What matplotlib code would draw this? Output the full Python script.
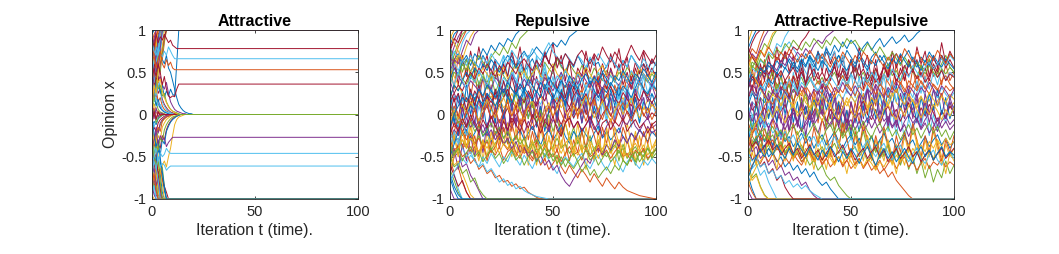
import numpy as np
import matplotlib
matplotlib.use("Agg")
import matplotlib.pyplot as plt

# ---------------- data (opinion values in hundredths) ----------------
titles = ["Attractive", "Repulsive", "Attractive-Repulsive"]
x_ticks = [0, 50, 100]
y_ticks = [-1, -0.5, 0, 0.5, 1]
y_tick_labels = ["-1", "-0.5", "0", "0.5", "1"]
x_label = "Iteration t (time)."
y_label = "Opinion x"

# Attractive: step 1 iteration, last value held to t=100
attr_to_pos = [
    [95, 100], [80, 90, 100], [70, 85, 75, 95, 100], [60, 75, 90, 100], [55, 70, 60, 85, 100],
    [88, 70, 95, 100], [45, 60, 75, 65, 90, 100], [30, 50, 45, 70, 85, 100], [65, 55, 80, 100],
    [40, 55, 70, 85, 95, 100], [75, 90, 80, 100], [50, 40, 60, 80, 70, 95, 100], [85, 95, 100],
    [35, 55, 50, 75, 90, 100], [62, 80, 70, 90, 100], [92, 85, 100], [58, 45, 65, 80, 100],
    [72, 60, 85, 78, 95, 100], [48, 65, 80, 70, 88, 100], [20, 40, 35, 55, 70, 65, 85, 100],
    [25, 15, 35, 55, 50, 72, 88, 100], [38, 50, 30, 45, 25, 35, 20, 28, 22, 30, 24, 22, 60, 100],
    [68, 78, 62, 88, 100], [15, 30, 45, 38, 60, 78, 92, 100],
    [10, 35, 25, 50, 65, 80, 100], [52, 38, 62, 75, 100], [82, 70, 92, 100],
    [28, 45, 62, 55, 78, 100],
]
attr_mid = [
    [90, 80, 95, 85, 92, 88, 95, 90, 85, 88, 82, 80, 78],
    [85, 75, 70, 80, 72, 68, 75, 70, 80, 75, 70, 66],
    [60, 70, 55, 65, 75, 60, 55, 65, 58, 62, 55, 53],
    [40, 55, 45, 60, 50, 35, 45, 30, 22, 20, 22, 21, 30, 36],
    [-40, -30, -20, -35, -25, -30, -28, -38, -33, -30, -27],
    [-60, -50, -40, -55, -45, -50, -47, -40, -44, -46],
    [-70, -55, -65, -50, -62, -58, -60, -66, -63, -61],
]
attr_to_zero = [
    [10, 5, 2, 1, 0], [20, 10, 15, 6, 3, 2, 1, 0], [-15, -8, -12, -5, -3, -1, 0],
    [30, 18, 25, 12, 8, 5, 3, 2, 1, 0], [-25, -15, -20, -10, -6, -4, -2, -1, 0],
    [5, 12, 6, 3, 2, 1, 0], [-8, -15, -6, -3, -2, -1, 0],
    [35, 25, 30, 15, 20, 10, 6, 4, 3, 2, 1, 1, 0],
    [-35, -25, -30, -20, -12, -8, -5, -3, -2, -1, 0], [15, 25, 10, 18, 8, 5, 3, 2, 1, 0],
    [-20, -30, -15, -22, -10, -6, -4, -2, -1, 0],
    [45, 35, 40, 25, 30, 18, 12, 8, 5, 3, 2, 1, 1, 0],
    [-45, -35, -40, -25, -30, -15, -10, -6, -4, -2, -1, 0],
    [25, 15, 20, 10, 12, 6, 4, 3, 2, 1, 0], [0, 8, -5, 4, -2, 1, 0], [-5, 5, -10, -4, -2, -1, 0],
    [90, 80, 70, 85, 75, 65, 60, 70, 55, 50, 40, 30, 20, 12, 8, 5, 3, 2, 1, 1, 0],
    [60, 50, 55, 40, 45, 35, 30, 38, 25, 15, 10, 6, 4, 3, 2, 1, 1, 0],
    [-55, -45, -50, -35, -40, -25, -30, -18, -12, -8, -5, -3, -2, -1, 0],
    [-70, -60, -75, -65, -70, -60, -55, -62, -50, -40, -25, -12, -6, -3, -2, -1, 0],
    [40, 30, 22, 35, 28, 15, 10, 6, 4, 2, 1, 0], [-30, -40, -22, -15, -20, -8, -5, -3, -2, -1, 0],
    [50, 40, 45, 30, 35, 22, 25, 15, 10, 6, 4, 3, 2, 1, 0],
    [-60, -50, -55, -42, -48, -30, -35, -20, -14, -9, -6, -4, -2, -1, 0],
    [12, -5, 8, -3, 2, 1, 0], [-12, 4, -6, 3, -1, 0],
    [55, 45, 50, 38, 42, 28, 20, 14, 9, 6, 4, 2, 1, 0],
    [-40, -50, -38, -42, -28, -32, -18, -12, -8, -5, -3, -2, -1, 0],
]
attr_to_neg = [
    [-95, -100], [-80, -92, -100], [-70, -85, -78, -95, -100], [-60, -75, -88, -100],
    [-55, -68, -60, -82, -100], [-88, -72, -95, -100], [-45, -58, -72, -65, -88, -100],
    [-30, -48, -42, -68, -82, -100], [-65, -55, -78, -100], [-40, -52, -68, -84, -95, -100],
    [-75, -88, -80, -100], [-50, -42, -62, -78, -70, -92, -100], [-85, -95, -100],
    [-35, -52, -48, -72, -88, -100], [-62, -78, -70, -90, -100], [-92, -84, -100],
    [-58, -46, -66, -82, -100], [-20, -38, -32, -55, -70, -62, -85, -100],
    [-15, -28, -40, -35, -55, -75, -90, -100], [-72, -62, -84, -76, -95, -100],
    [-48, -62, -56, -70, -64, -78, -85, -92, -100],
    [-10, -35, -25, -50, -65, -82, -100], [-52, -38, -62, -78, -100], [-82, -70, -90, -100],
    [-28, -45, -60, -55, -80, -100], [-5, -22, -38, -30, -52, -68, -85, -100],
]

# Repulsive: step 2 iterations, last value held to t=100
rep_to_pos = [
    [90, 100], [75, 88, 100], [65, 80, 92, 100], [82, 95, 100], [55, 70, 85, 95, 100],
    [70, 62, 80, 90, 100], [60, 75, 68, 85, 95, 100], [45, 58, 70, 65, 80, 92, 100],
    [78, 90, 85, 100], [50, 65, 60, 75, 88, 82, 95, 100],
    [40, 55, 48, 62, 70, 58, 72, 65, 78, 70, 82, 75, 85, 80, 90, 86, 95, 100],
    [35, 50, 45, 60, 52, 65, 58, 70, 62, 55, 68, 75, 70, 80, 72, 85, 78, 90, 95, 100],
    [20, 35, 28, 40, 50, 42, 55, 48, 60, 52, 65, 58, 50, 62, 70, 64, 55, 68, 75, 66, 72, 80,
     74, 68, 78, 85, 80, 88, 82, 92, 96, 100],
]
rep_to_neg = [
    [-88, -100], [-75, -90, -100], [-65, -78, -92, -100], [-55, -68, -62, -80, -92, -100],
    [-80, -70, -88, -100], [-45, -60, -55, -70, -82, -95, -100], [-60, -72, -85, -78, -92, -100],
    [-35, -50, -45, -62, -58, -72, -80, -90, -100], [-70, -85, -95, -100],
    [-50, -62, -58, -70, -65, -80, -75, -88, -95, -100],
    [-30, -42, -38, -50, -45, -58, -52, -65, -60, -70, -66, -75, -72, -80, -78, -85, -82, -88,
     -86, -92, -95, -98, -100],
    [-20, -35, -28, -40, -50, -44, -55, -62, -58, -68, -64, -72, -80, -76, -84, -80, -88, -85,
     -90, -93, -95, -97, -98, -99, -100],
    [0, -15, -8, -20, -30, -22, -35, -28, -40, -32, -45, -38, -25, -35, -42, -30, -45, -52, -40,
     -48, -55, -45, -60, -52, -65, -58, -50, -62, -70, -60, -68, -75, -65, -72, -80, -70, -78,
     -85, -75, -82, -88, -80, -86, -90, -92, -94, -96, -97, -98, -99, -100],
]
rep_mid = [
    [80, 65, 72, 58, 66, 50, 62, 55, 70, 60, 52, 65, 58, 48, 62, 70, 55, 63, 50, 58, 66, 54, 60, 72, 62, 55, 68, 58, 50, 64, 56, 70, 60, 52, 66, 58, 62, 50, 57, 68, 60, 54, 64, 56, 70, 62, 55, 60, 52, 64, 58],
    [20, 35, 28, 42, 36, 48, 40, 32, 45, 38, 50, 42, 55, 46, 38, 52, 60, 48, 55, 42, 50, 58, 45, 62, 54, 48, 66, 56, 50, 60, 52, 45, 58, 50, 42, 55, 48, 40, 52, 46, 38, 50, 44, 56, 48, 40, 52, 45, 38, 48, 42],
    [-40, -20, -5, 10, 5, 20, 12, 28, 20, 35, 25, 18, 32, 24, 40, 30, 22, 36, 28, 20, 34, 26, 42, 32, 24, 38, 30, 22, 35, 28, 40, 32, 25, 38, 30, 44, 34, 26, 40, 32, 24, 36, 28, 42, 34, 26, 38, 30, 22, 35, 28],
    [10, 22, 15, 28, 18, 12, 25, 20, 8, 18, 30, 22, 14, 26, 20, 10, 24, 32, 22, 15, 28, 20, 12, 25, 35, 24, 16, 28, 20, 30, 22, 14, 26, 18, 32, 24, 16, 28, 20, 12, 25, 18, 30, 22, 14, 26, 36, 28, 20, 24, 18],
    [60, 45, 35, 25, 18, 10, 20, 12, 5, 15, 22, 10, 18, 8, 14, 25, 12, 4, 16, 20, 8, 14, 22, 10, 2, 12, 20, 8, 16, 24, 12, 5, 18, 10, 20, 14, 6, 16, 24, 12, 4, 14, 20, 8, 16, 25, 12, 6, 18, 10, 14],
    [-70, -50, -35, -20, -12, -5, 5, -8, 2, 10, -5, 3, 12, -2, 8, -10, 0, 6, -6, 4, 12, -4, 6, -8, 2, 10, -2, -12, 0, 8, -4, 6, 14, 2, -6, 4, -10, 0, 8, -2, 10, 2, -8, 4, -4, 6, 12, 0, -6, 2, -2],
    [-30, -18, -25, -10, -20, -5, -15, -8, -22, -12, -2, -14, -6, -20, -10, -16, -4, -12, -22, -8, -18, -10, 0, -12, -20, -6, -14, -24, -10, -2, -16, -8, -20, -12, -4, -18, -10, -26, -14, -6, -16, -22, -8, -12, -2, -14, -20, -10, -4, -16, -12],
    [5, -8, -15, -25, -18, -30, -22, -12, -26, -20, -32, -24, -16, -28, -20, -34, -26, -18, -30, -22, -14, -26, -36, -24, -18, -30, -22, -12, -26, -34, -20, -28, -16, -24, -32, -22, -14, -28, -20, -30, -24, -16, -26, -34, -22, -28, -18, -24, -32, -20, -26],
    [-55, -45, -38, -30, -40, -28, -35, -25, -38, -30, -42, -34, -26, -36, -30, -44, -34, -28, -38, -46, -36, -30, -40, -32, -44, -38, -28, -40, -34, -46, -38, -30, -42, -36, -48, -40, -34, -44, -50, -42, -36, -46, -40, -52, -44, -38, -48, -42, -54, -46, -40],
    [-20, -32, -28, -40, -35, -46, -38, -44, -36, -50, -42, -48, -38, -54, -44, -40, -50, -36, -46, -42, -52, -40, -48, -36, -44, -50, -42, -56, -46, -38, -48, -44, -54, -40, -50, -46, -36, -48, -42, -52, -44, -38, -50, -46, -56, -42, -48, -40, -52, -46, -42],
    [-80, -68, -60, -52, -58, -48, -55, -62, -50, -58, -46, -54, -62, -50, -56, -44, -52, -60, -48, -56, -64, -52, -58, -46, -54, -62, -70, -58, -50, -56, -62, -52, -46, -58, -64, -54, -48, -58, -66, -56, -50, -60, -68, -56, -50, -58, -64, -54, -60, -52, -58],
    [95, 85, 75, 65, 58, 50, 60, 45, 55, 48, 40, 52, 46, 56, 42, 50, 58, 44, 52, 38, 48, 56, 46, 40, 52, 60, 48, 42, 54, 46, 38, 50, 44, 56, 48, 40, 52, 58, 46, 50, 42, 54, 48, 38, 50, 44, 56, 48, 42, 50, 46],
    [30, 15, 25, 8, 20, 12, 28, 18, 6, 22, 14, 26, 10, 20, 30, 16, 8, 22, 14, 28, 18, 10, 24, 16, 32, 20, 12, 26, 18, 8, 22, 30, 16, 24, 10, 20, 28, 14, 22, 34, 20, 12, 26, 18, 10, 24, 16, 28, 20, 14, 22],
    [-10, 5, -5, 12, 0, 15, 5, -8, 8, 18, 6, -4, 10, 20, 8, -2, 14, 4, -6, 10, 16, 2, -8, 6, 14, -2, 8, 18, 4, -6, 10, 0, 12, 22, 8, -4, 6, 16, 2, -8, 4, 14, 0, 10, 20, 6, -4, 8, 2, 12, 6],
    [40, 25, 15, 5, -5, -15, -8, -20, -12, -25, -18, -30, -22, -35, -28, -40, -32, -45, -38, -50, -42, -55, -48, -60, -54, -66, -60, -72, -80, -85, -76, -68, -60, -52, -58, -46, -40, -48, -36, -42, -30, -38, -26, -34, -22, -30, -18, -26, -14, -22, -18],
    [10, 0, -10, -5, -15, -8, -20, -12, -25, -18, -10, -22, -15, -28, -20, -32, -25, -35, -28, -40, -32, -45, -38, -50, -42, -55, -48, -60, -52, -58, -64, -56, -68, -60, -72, -65, -75, -68, -62, -70, -60, -66, -54, -60, -48, -56, -44, -50, -40, -46, -42],
    [50, 60, 52, 65, 58, 70, 62, 55, 68, 60, 72, 64, 58, 70, 62, 76, 68, 60, 72, 66, 78, 70, 64, 76, 85, 74, 68, 62, 72, 66, 58, 70, 64, 56, 68, 60, 72, 64, 56, 68, 60, 52, 64, 56, 70, 62, 54, 66, 58, 50, 62],
    [15, 25, 35, 28, 40, 50, 42, 55, 48, 60, 52, 45, 58, 50, 62, 55, 48, 60, 66, 58, 52, 64, 56, 70, 62, 55, 68, 60, 72, 64, 58, 70, 76, 66, 60, 72, 64, 80, 70, 62, 74, 66, 58, 70, 82, 72, 64, 76, 68, 60, 70],
    [-50, -35, -20, -10, 0, 10, 5, 18, 12, 25, 18, 10, 22, 30, 20, 14, 26, 18, 32, 24, 16, 28, 20, 36, 26, 18, 30, 22, 14, 28, 36, 24, 18, 30, 40, 28, 20, 32, 26, 38, 30, 22, 34, 28, 20, 32, 42, 30, 24, 36, 30],
    [-5, 10, 0, -12, 5, -8, 8, -15, 0, 12, -5, 6, -10, 4, 15, -2, 8, -12, 2, 10, -6, 6, -14, 0, 10, -4, 12, 2, -10, 4, 14, -2, 6, -8, 8, 18, 4, -6, 10, 0, -10, 6, 14, 2, -8, 4, 12, -2, 8, -6, 4],
    [-65, -50, -40, -30, -38, -28, -35, -45, -32, -40, -28, -36, -46, -34, -40, -30, -38, -48, -36, -44, -32, -40, -50, -38, -30, -42, -36, -46, -34, -28, -40, -48, -36, -44, -32, -40, -52, -40, -34, -46, -38, -30, -42, -50, -40, -34, -44, -36, -48, -40, -36],
    [70, 55, 45, 38, 30, 40, 34, 28, 42, 36, 30, 44, 38, 26, 40, 48, 36, 30, 42, 34, 46, 38, 30, 44, 36, 28, 40, 50, 38, 32, 44, 36, 48, 40, 32, 46, 38, 30, 42, 52, 40, 34, 46, 38, 30, 44, 36, 48, 40, 34, 42],
    [-35, -48, -40, -55, -45, -38, -50, -44, -56, -48, -40, -52, -46, -58, -50, -42, -54, -48, -60, -50, -44, -56, -48, -40, -52, -46, -58, -50, -62, -52, -46, -56, -50, -42, -54, -48, -60, -52, -44, -56, -50, -42, -54, -60, -50, -44, -56, -48, -40, -52, -46],
    [45, 35, 50, 40, 30, 45, 38, 52, 42, 34, 48, 40, 30, 44, 36, 50, 42, 34, 46, 38, 28, 42, 36, 50, 44, 32, 46, 38, 52, 40, 34, 48, 42, 30, 44, 38, 50, 42, 34, 46, 40, 32, 46, 38, 52, 44, 36, 48, 40, 30, 42],
    [-25, -10, -20, -5, -15, 0, -12, -22, -6, -16, -2, -14, -24, -8, -18, -4, -12, -20, -6, -16, 0, -10, -22, -8, -14, -2, -18, -26, -10, -4, -16, -8, -20, -12, -2, -14, -24, -10, -6, -18, -8, -14, -4, -20, -12, -6, -16, -10, -22, -12, -8],
    [-15, 0, 10, 20, 15, 25, 18, 30, 22, 35, 28, 20, 32, 26, 38, 30, 24, 36, 28, 42, 34, 26, 38, 30, 44, 36, 28, 40, 32, 46, 38, 30, 42, 48, 36, 44, 38, 50, 42, 34, 46, 40, 52, 44, 36, 48, 42, 54, 46, 38, 50],
]
rep_wild = [
    [60, 30, 70, 40, 55, 20, 50, 15, 45, 10, 35, -5, 30, -10, 20, -20, 15, -25, 5, -30, -5, -35, 0, -40, -10, -30, 5, -25, 10, -15, 25, -5, 30, 0, 35, 10, 45, 15, 40, 5, 35, 20, 50, 25, 45, 15, 40, 30, 55, 35, 45],
    [-20, 10, -15, 20, -5, 30, 5, 40, 15, 50, 25, 60, 35, 70, 45, 65, 30, 55, 20, 60, 35, 70, 40, 55, 25, 45, 15, 40, 5, 35, -5, 25, -10, 20, -15, 10, -20, 15, -10, 20, -5, 25, 0, 15, -15, 10, -10, 20, -5, 15, 0],
    [-60, -20, -50, -10, -40, -5, -45, -15, -55, -20, -45, -5, -35, 0, -30, -50, -15, -45, -25, -60, -30, -55, -15, -40, -5, -35, -60, -30, -50, -20, -45, -10, -40, -65, -35, -55, -20, -50, -15, -40, -60, -30, -50, -10, -35, -55, -25, -45, -15, -40, -30],
    [40, 65, 35, 70, 45, 75, 50, 80, 55, 70, 40, 65, 30, 60, 45, 75, 55, 80, 50, 70, 35, 65, 45, 75, 60, 85, 55, 70, 40, 65, 30, 55, 45, 75, 50, 70, 35, 60, 45, 72, 55, 78, 50, 68, 40, 62, 48, 74, 52, 66, 58],
    [-60, -40, -65, -35, -55, -25, -50, -20, -45, -10, -35, -5, -30, 5, -20, 10, -15, 20, -5, 15, -10, 25, 0, 30, 5, 20, -5, 25, 10, 35, 15, 30, 0, 25, 10, 40, 20, 30, 5, 25, 15, 35, 10, 30, 0, 20, 5, 30, 15, 35, 20],
    [30, -10, 25, -5, 35, 0, 20, -15, 15, -20, 10, -10, 30, -5, 25, 5, 40, 10, 30, -5, 20, -15, 10, -20, 5, 25, -5, 30, 10, 35, 0, 20, -10, 15, -15, 10, -5, 25, 0, 30, 10, 35, 5, 25, -5, 20, -10, 15, 5, 25, 10],
    [80, 60, 70, 50, 65, 45, 55, 35, 50, 30, 45, 25, 40, 20, 35, 10, 25, 5, 20, -5, 15, -10, 5, -15, 0, -20, -5, -25, -10, -30, -15, -35, -20, -40, -25, -45, -30, -50, -35, -45, -30, -55, -35, -50, -40, -60, -45, -55, -35, -50, -40],
    [-10, -30, -15, -40, -20, -45, -25, -50, -30, -55, -35, -20, -40, -15, -35, -10, -30, -5, -25, -45, -20, -40, -10, -30, -50, -25, -45, -15, -35, -55, -30, -45, -20, -40, -10, -25, -45, -15, -35, -5, -25, -40, -15, -30, -50, -25, -40, -20, -35, -10, -25],
    [-40, -20, -35, -10, -25, 0, -15, 10, -5, 20, 5, 30, 15, 40, 25, 50, 35, 60, 45, 70, 50, 65, 40, 60, 35, 55, 25, 50, 20, 45, 15, 40, 10, 35, 5, 30, 0, 25, -5, 20, 0, 30, 10, 35, 15, 40, 20, 45, 25, 40, 30],
    [-45, -25, -50, -20, -40, -15, -35, -55, -30, -50, -20, -45, -15, -35, -10, -30, -50, -25, -45, -15, -40, -60, -35, -55, -25, -45, -20, -40, -10, -30, -50, -25, -45, -15, -35, -55, -30, -50, -20, -40, -15, -35, -55, -30, -45, -20, -40, -60, -35, -50, -30],
    [0, 20, -5, 25, 5, 30, 10, 35, 15, 25, 5, 30, 15, 40, 20, 45, 25, 50, 30, 40, 20, 45, 25, 50, 35, 55, 30, 45, 20, 40, 25, 50, 30, 55, 35, 45, 25, 50, 30, 55, 40, 60, 35, 50, 30, 55, 40, 60, 45, 55, 45],
    [-20, 5, -25, 10, -15, 15, -10, 20, -5, 25, -15, 10, -20, 5, -25, 15, -10, 20, 0, 25, -5, 15, -15, 10, -20, 20, -10, 25, -5, 30, 0, 20, -10, 15, -15, 25, -5, 30, 5, 20, -10, 15, -5, 25, 0, 30, 10, 20, -5, 15, 5],
]

# Attractive-Repulsive: step 2 iterations, last value held to t=100
ar_to_pos = [
    [85, 100], [70, 85, 95, 100], [60, 72, 66, 80, 92, 100], [78, 90, 100],
    [50, 62, 58, 72, 84, 78, 92, 100], [65, 78, 72, 88, 100],
    [40, 55, 50, 64, 60, 74, 70, 84, 80, 92, 100], [55, 68, 62, 76, 70, 84, 96, 100],
    [30, 45, 40, 55, 48, 62, 56, 68, 62, 74, 70, 80, 76, 86, 92, 100],
    [20, 35, 30, 45, 52, 46, 58, 52, 64, 58, 70, 64, 74, 68, 78, 72, 82, 88, 84, 92, 96, 100],
    [10, 25, 18, 35, 28, 42, 36, 50, 44, 56, 48, 62, 54, 66, 58, 70, 62, 74, 66, 78, 70, 82,
     74, 86, 78, 88, 82, 72, 80, 86, 76, 84, 90, 80, 86, 92, 84, 88, 94, 86, 90, 96, 100],
    [45, 58, 52, 66, 60, 72, 66, 78, 72, 84, 78, 88, 82, 76, 86, 80, 90, 84, 78, 88, 82, 92,
     86, 80, 90, 84, 88, 80, 74, 84, 78, 70, 80, 72, 64, 74, 66, 58, 68, 60, 52, 62, 56, 48,
     58, 50, 44, 54, 48, 56, 50],
]
ar_to_neg = [
    [-90, -100], [-72, -88, -100], [-60, -75, -70, -85, -95, -100], [-80, -92, -100],
    [-50, -64, -58, -72, -66, -80, -90, -100], [-66, -78, -72, -86, -96, -100],
    [-40, -54, -48, -62, -56, -70, -64, -78, -72, -86, -94, -100],
    [-30, -44, -38, -52, -46, -60, -54, -66, -60, -72, -68, -78, -74, -84, -80, -90, -96, -100],
    [-20, -34, -28, -42, -36, -50, -44, -56, -50, -62, -56, -66, -60, -70, -64, -74, -68, -78,
     -84, -80, -88, -94, -100],
    [0, -15, -8, -22, -16, -30, -24, -38, -32, -44, -38, -50, -44, -56, -50, -60, -54, -66,
     -60, -72, -78, -74, -84, -90, -96, -100],
    [-10, -22, -16, -30, -24, -36, -30, -42, -36, -48, -40, -52, -46, -56, -50, -44, -54, -48,
     -58, -52, -62, -56, -50, -60, -54, -64, -58, -52, -62, -56, -66, -60, -70, -64, -74, -68,
     -78, -84, -90, -96, -100],
    [-45, -55, -50, -62, -58, -70, -66, -76, -72, -82, -78, -86, -82, -88, -84, -90, -94, -97, -100],
]
ar_mid = [
    [30, 42, 36, 50, 44, 58, 52, 64, 56, 70, 62, 54, 66, 58, 72, 64, 56, 68, 60, 74, 66, 58, 70, 62, 76, 68, 60, 72, 64, 56, 68, 74, 62, 70, 58, 66, 72, 60, 68, 76, 64, 56, 68, 62, 74, 66, 58, 70, 62, 72, 66],
    [-20, -5, 8, 20, 14, 28, 22, 36, 30, 40, 34, 26, 38, 44, 32, 40, 48, 36, 44, 30, 42, 50, 38, 46, 34, 48, 56, 42, 50, 38, 46, 54, 40, 48, 60, 46, 52, 40, 56, 64, 50, 44, 58, 52, 66, 54, 48, 60, 70, 56, 50],
    [55, 45, 38, 30, 40, 32, 44, 36, 28, 40, 34, 46, 38, 26, 36, 44, 32, 40, 30, 42, 36, 26, 38, 46, 34, 28, 40, 32, 44, 36, 30, 42, 34, 48, 38, 30, 42, 36, 26, 40, 34, 46, 38, 30, 42, 34, 28, 40, 46, 36, 30],
    [0, 15, 10, 25, 35, 45, 55, 65, 72, 80, 86, 78, 70, 60, 50, 42, 34, 26, 20, 28, 22, 14, 24, 18, 30, 22, 14, 26, 20, 32, 24, 16, 28, 20, 12, 24, 30, 18, 26, 20, 14, 26, 34, 22, 16, 28, 20, 32, 24, 18, 26],
    [-60, -45, -30, -20, -10, 0, 10, 4, 14, 8, 18, 10, 2, 14, 20, 8, 16, 4, 12, 22, 10, 4, 16, 8, 20, 12, 2, 14, 24, 10, 6, 18, 12, 4, 16, 26, 14, 8, 20, 12, 2, 14, 22, 10, 18, 6, 16, 24, 12, 8, 14],
    [20, 5, 12, -5, 8, -2, 10, -8, 4, 12, -4, 6, -10, 2, 10, -6, 4, 14, 0, -8, 6, -2, 12, 2, -10, 4, -4, 8, 16, 0, -6, 6, -12, 2, 10, -2, 6, -8, 4, 14, 0, -6, 8, -2, 12, 2, -8, 4, -4, 10, 2],
    [-30, -20, -12, -22, -8, -16, -4, -14, -24, -10, -2, -16, -8, -20, -12, -4, -14, -22, -6, -18, -10, -2, -14, -24, -12, -6, -18, -8, -20, -12, 0, -10, -22, -14, -4, -16, -8, -20, -12, -26, -14, -6, -18, -10, -22, -14, -4, -16, -8, -18, -12],
    [-50, -38, -30, -22, -32, -24, -36, -28, -20, -32, -26, -38, -30, -22, -34, -26, -40, -30, -24, -36, -28, -20, -32, -40, -30, -24, -36, -28, -42, -32, -26, -38, -30, -22, -34, -28, -40, -32, -24, -36, -30, -42, -34, -26, -38, -30, -24, -36, -28, -40, -32],
    [-15, -25, -35, -30, -42, -36, -48, -40, -34, -46, -38, -50, -42, -36, -48, -40, -52, -44, -38, -50, -42, -34, -46, -40, -52, -44, -38, -50, -42, -56, -46, -40, -52, -44, -36, -48, -42, -54, -46, -40, -50, -44, -56, -48, -42, -52, -46, -38, -50, -44, -48],
    [-70, -60, -52, -58, -48, -56, -46, -54, -62, -50, -58, -46, -54, -60, -50, -44, -56, -48, -60, -52, -46, -58, -50, -62, -54, -48, -60, -52, -64, -56, -50, -62, -54, -66, -58, -52, -64, -56, -50, -62, -56, -66, -58, -52, -64, -56, -60, -52, -62, -56, -60],
    [10, 0, -10, -4, -16, -10, -22, -16, -28, -20, -32, -24, -36, -28, -20, -32, -26, -38, -30, -42, -34, -26, -38, -44, -36, -28, -40, -48, -38, -30, -42, -50, -40, -34, -46, -54, -44, -36, -48, -56, -46, -40, -52, -58, -48, -42, -54, -60, -50, -44, -52],
    [-85, -72, -62, -55, -48, -40, -48, -38, -46, -36, -44, -52, -42, -50, -40, -48, -56, -46, -54, -44, -52, -60, -50, -58, -48, -56, -64, -54, -62, -52, -58, -66, -56, -62, -52, -58, -48, -56, -44, -52, -40, -48, -36, -44, -32, -40, -30, -38, -28, -36, -32],
    [80, 68, 60, 52, 58, 48, 56, 44, 52, 40, 48, 56, 42, 50, 38, 46, 54, 42, 50, 40, 48, 56, 44, 52, 40, 48, 58, 46, 54, 42, 50, 38, 46, 56, 44, 52, 40, 48, 58, 46, 54, 42, 50, 38, 46, 56, 44, 52, 40, 48, 44],
    [35, 48, 42, 55, 50, 62, 56, 48, 60, 54, 66, 58, 50, 62, 56, 68, 60, 52, 64, 58, 50, 62, 70, 58, 52, 64, 56, 68, 60, 52, 64, 58, 70, 62, 54, 66, 60, 72, 64, 56, 68, 60, 52, 64, 58, 70, 62, 56, 66, 60, 54],
    [-40, -25, -10, 0, 10, 18, 12, 24, 18, 30, 24, 16, 28, 22, 34, 26, 18, 30, 24, 36, 28, 20, 32, 26, 38, 30, 22, 34, 28, 40, 32, 24, 36, 30, 20, 32, 26, 38, 30, 22, 34, 28, 40, 32, 24, 36, 30, 22, 34, 28, 32],
    [65, 50, 40, 30, 22, 14, 24, 18, 10, 22, 16, 8, 20, 26, 14, 8, 20, 12, 24, 16, 10, 22, 28, 16, 10, 22, 14, 26, 18, 8, 20, 14, 26, 18, 10, 22, 30, 18, 12, 24, 16, 8, 20, 14, 26, 18, 10, 22, 14, 24, 18],
    [5, -8, 2, -12, -4, -16, -6, 4, -8, -18, -6, 2, -10, -20, -8, 0, -12, -4, 6, -6, -14, -2, -10, 4, -8, -18, -6, 2, -12, -4, -16, -6, 4, -8, -2, -14, -6, -20, -8, 0, -10, -4, -16, -6, 2, -10, -20, -8, -2, -12, -6],
    [-45, -35, -28, -20, -30, -22, -14, -26, -18, -30, -20, -12, -24, -16, -28, -20, -10, -22, -30, -18, -12, -24, -16, -28, -20, -12, -26, -18, -8, -20, -28, -16, -10, -22, -14, -26, -18, -30, -20, -12, -24, -16, -28, -18, -10, -22, -14, -26, -18, -30, -20],
    [15, 28, 22, 34, 28, 40, 32, 26, 38, 30, 42, 34, 26, 38, 32, 44, 36, 28, 40, 34, 46, 38, 30, 42, 36, 48, 40, 32, 44, 38, 50, 42, 36, 48, 40, 54, 46, 40, 52, 44, 58, 50, 44, 56, 62, 54, 60, 66, 58, 70, 64],
    [-25, -38, -32, -44, -38, -30, -42, -36, -48, -40, -34, -46, -40, -52, -44, -36, -48, -42, -54, -46, -38, -50, -44, -36, -48, -42, -54, -46, -40, -52, -44, -38, -50, -42, -56, -48, -40, -52, -46, -38, -50, -44, -56, -48, -42, -54, -46, -40, -52, -46, -40],
    [-75, -62, -50, -42, -50, -40, -48, -36, -44, -52, -40, -48, -34, -42, -50, -38, -46, -54, -42, -50, -38, -46, -56, -44, -52, -40, -48, -58, -46, -38, -50, -60, -48, -40, -52, -44, -56, -48, -40, -50, -58, -46, -38, -50, -42, -54, -46, -38, -50, -44, -48],
    [60, 70, 64, 76, 68, 80, 72, 64, 74, 66, 78, 70, 62, 72, 66, 76, 68, 60, 72, 64, 56, 68, 62, 74, 66, 58, 70, 62, 74, 68, 60, 72, 64, 56, 68, 60, 72, 64, 78, 70, 62, 74, 66, 58, 70, 64, 76, 68, 60, 72, 66],
    [-35, -20, -10, 0, -8, 6, -4, 10, 0, -10, 4, 12, -2, 8, -6, 6, 14, 2, -8, 4, 12, 0, -6, 8, 16, 4, -4, 10, -2, 6, 14, 2, -8, 6, 12, 0, -6, 8, -2, 10, 18, 6, -4, 8, 0, 12, 4, -6, 6, -2, 8],
    [40, 30, 22, 32, 24, 16, 28, 20, 32, 26, 18, 30, 22, 34, 26, 18, 30, 24, 36, 28, 20, 32, 26, 38, 28, 22, 34, 26, 18, 30, 24, 36, 28, 20, 32, 26, 38, 30, 22, 34, 28, 20, 32, 26, 38, 30, 22, 34, 28, 20, 30],
]
ar_wild = [
    [50, 25, 60, 30, 65, 35, 55, 20, 50, 15, 45, 10, 40, 5, 35, -5, 30, -10, 20, -15, 15, -20, 10, -25, 5, -20, 15, -10, 25, 0, 35, 10, 45, 20, 55, 30, 60, 35, 50, 25, 55, 30, 60, 40, 65, 45, 55, 35, 60, 40, 50],
    [-30, 0, -25, 10, -15, 20, -5, 30, 5, 40, 15, 50, 25, 60, 35, 70, 45, 75, 55, 65, 40, 60, 35, 55, 25, 50, 20, 45, 10, 35, 0, 25, -10, 15, -20, 5, -25, 0, -30, -5, -20, 5, -15, 10, -25, 0, -20, 5, -10, 15, 0],
    [-70, -45, -60, -35, -50, -25, -45, -20, -40, -15, -35, -55, -30, -50, -25, -45, -65, -40, -55, -30, -50, -20, -40, -10, -30, -50, -25, -45, -15, -35, -55, -30, -50, -20, -40, -60, -35, -55, -25, -45, -15, -35, -55, -30, -50, -20, -40, -60, -35, -50, -40],
    [30, 55, 25, 60, 40, 70, 45, 80, 55, 75, 50, 70, 40, 65, 35, 60, 45, 75, 50, 80, 60, 75, 45, 70, 40, 65, 50, 80, 55, 70, 40, 65, 35, 60, 45, 75, 55, 70, 40, 65, 50, 80, 60, 75, 45, 70, 55, 85, 60, 75, 65],
    [-50, -30, -55, -25, -45, -15, -40, -10, -30, 0, -20, 10, -10, 20, 0, 25, -5, 30, 10, 35, 15, 25, 0, 20, -10, 15, -5, 25, 5, 30, 10, 35, 0, 20, -10, 15, -15, 10, -5, 20, 5, 25, -5, 15, -10, 10, -15, 5, -5, 15, 0],
    [10, -20, 15, -15, 25, -5, 20, -10, 30, 0, 25, -10, 15, -20, 10, -15, 20, -5, 30, 5, 25, -5, 15, -15, 5, -25, 0, -20, 10, -10, 20, -5, 25, 0, 30, 10, 35, 5, 25, -5, 15, -10, 20, 0, 25, 5, 30, 0, 20, -5, 10],
    [75, 55, 65, 45, 60, 40, 50, 30, 45, 25, 35, 15, 30, 10, 25, 0, 15, -5, 10, -15, 0, -20, -5, -25, -10, -30, -15, -35, -20, -40, -25, -45, -30, -50, -35, -55, -40, -60, -45, -65, -50, -70, -55, -75, -60, -80, -65, -75, -55, -70, -60],
    [-20, -40, -25, -45, -15, -35, -5, -25, -45, -20, -40, -10, -30, -50, -25, -45, -15, -35, -5, -25, -45, -20, -40, -10, -30, -50, -20, -40, -10, -30, -50, -25, -45, -15, -35, -55, -25, -45, -20, -40, -10, -30, -50, -25, -45, -15, -35, -55, -30, -45, -25],
    [-30, -10, -25, 0, -15, 10, -5, 20, 5, 30, 15, 40, 25, 50, 35, 60, 45, 70, 55, 80, 65, 75, 55, 70, 45, 65, 40, 60, 35, 55, 30, 50, 25, 45, 20, 40, 15, 35, 10, 30, 20, 40, 25, 45, 30, 50, 35, 55, 40, 50, 45],
    [-55, -30, -60, -35, -50, -25, -45, -65, -40, -55, -30, -50, -20, -40, -60, -35, -55, -25, -45, -65, -40, -60, -30, -50, -70, -45, -60, -35, -55, -25, -45, -65, -40, -55, -30, -50, -70, -45, -60, -35, -55, -30, -50, -65, -40, -55, -30, -50, -70, -45, -55],
    [15, 35, 10, 40, 20, 45, 25, 50, 30, 40, 20, 45, 30, 55, 35, 60, 40, 50, 30, 55, 40, 60, 35, 55, 45, 65, 40, 60, 30, 50, 35, 55, 40, 60, 45, 65, 35, 55, 40, 60, 50, 65, 45, 55, 40, 60, 50, 70, 55, 65, 55],
    [-10, 15, -15, 20, -5, 25, 0, 30, -10, 20, -20, 10, -15, 15, -25, 5, -10, 20, 0, 25, -5, 20, -15, 10, -20, 15, -10, 25, -5, 30, 0, 25, -10, 20, -15, 15, -5, 25, 5, 30, -5, 20, -10, 25, 0, 30, 10, 25, -5, 20, 5],
]

# ---------------- styling ----------------
matlab_colors = ["#0072BD", "#D95319", "#EDB120", "#7E2F8E", "#77AC30", "#4DBEEE", "#A2142F"]
attr_mid_color_idx = [6, 5, 1, 6, 3, 5, 5]   # colours of the stragglers in the Attractive panel
plt.rcParams["font.family"] = ["Liberation Sans", "DejaVu Sans"]
plt.rcParams["axes.unicode_minus"] = False


def interleave(*groups):
    out = []
    longest = max(len(g) for g in groups)
    for i in range(longest):
        for g in groups:
            if i < len(g):
                out.append(g[i])
    return out


def series(vals, step, n_points):
    v = list(vals)[:n_points]
    v = v + [v[-1]] * (n_points - len(v))
    t = np.arange(n_points) * step
    return t, np.array(v, dtype=float) / 100.0


panels = [
    (interleave(attr_to_pos, attr_to_zero, attr_to_neg), 1, 101),
    (interleave(rep_mid, rep_wild, rep_to_pos, rep_to_neg), 2, 51),
    (interleave(ar_mid, ar_wild, ar_to_pos, ar_to_neg), 2, 51),
]

fig = plt.figure(figsize=(10.59, 2.54), dpi=100)
lefts = [152 / 1059, 450 / 1059, 748 / 1059]
for k, (lines, step, npts) in enumerate(panels):
    ax = fig.add_axes([lefts[k], 1 - 199 / 254, 206 / 1059, 169 / 254])
    for i, vals in enumerate(lines):
        t, y = series(vals, step, npts)
        ax.plot(t, y, color=matlab_colors[i % 7], lw=0.7)
    if k == 0:
        for vals, ci in zip(attr_mid, attr_mid_color_idx):
            t, y = series(vals, step, npts)
            ax.plot(t, y, color=matlab_colors[ci], lw=0.7)
    ax.set_xlim(0, 100)
    ax.set_ylim(-1, 1)
    ax.set_xticks(x_ticks)
    ax.set_xticklabels([str(v) for v in x_ticks])
    ax.set_yticks(y_ticks)
    ax.set_yticklabels(y_tick_labels)
    ax.tick_params(direction="in", length=2.5, width=0.6, top=True, right=True,
                   labelsize=10.5, colors="#262626", pad=4)
    for s in ax.spines.values():
        s.set_linewidth(0.6)
        s.set_color("#262626")
    ax.set_title(titles[k], fontsize=11.5, fontweight="bold", pad=3)
    ax.set_xlabel(x_label, fontsize=11.5, color="#262626", labelpad=3)
    if k == 0:
        ax.set_ylabel(y_label, fontsize=11.5, color="#262626", labelpad=2)

fig.savefig("out.png", dpi=100)
